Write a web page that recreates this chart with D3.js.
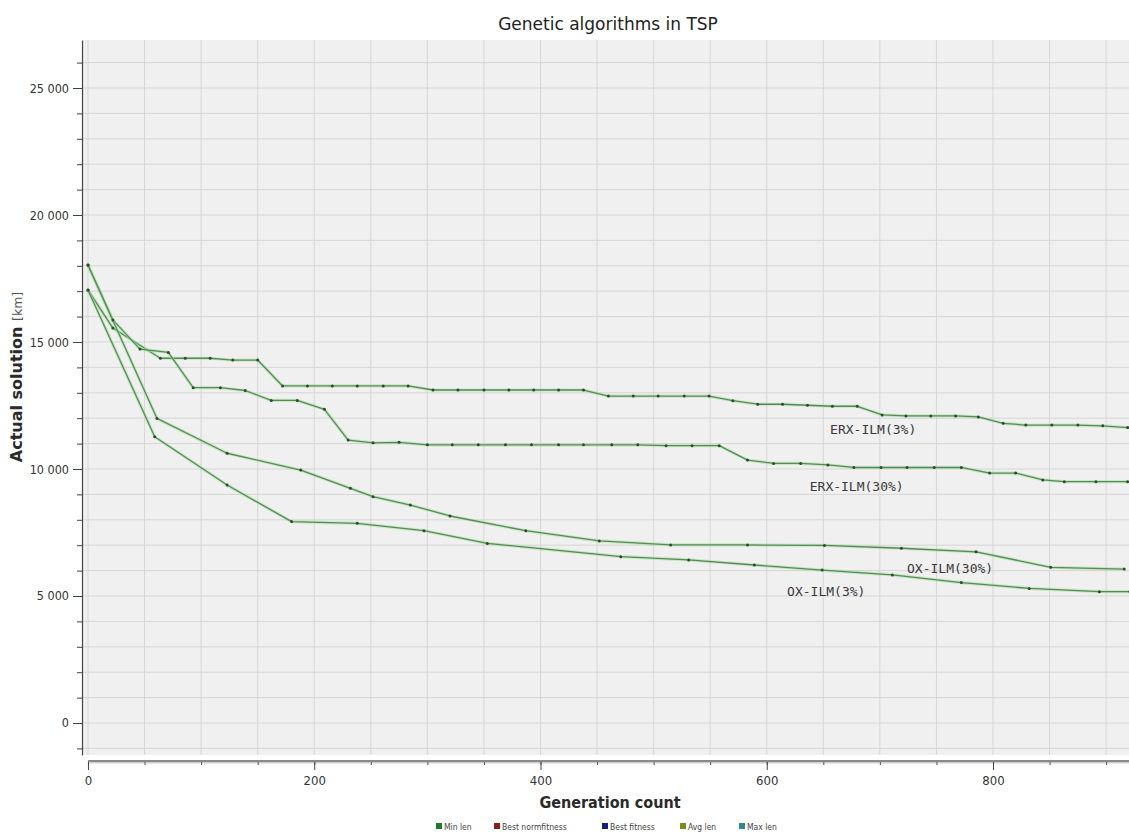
<!DOCTYPE html>
<html>
<head>
<meta charset="utf-8">
<script src="https://cdn.jsdelivr.net/npm/d3@7"></script>
<style>
  html, body { margin: 0; padding: 0; background: #ffffff; }
  svg { display: block; }
</style>
</head>
<body>
<svg id="chart" width="1129" height="836"></svg>
<script>
// ---------------- DATA ----------------
const chartTitle = "Genetic algorithms in TSP";
const xTitle = "Generation count";
const yTitleMain = "Actual solution";
const yTitleUnit = "[km]";

const seriesNames = ["ERX-ILM(3%)", "ERX-ILM(30%)", "OX-ILM(30%)", "OX-ILM(3%)"];

const erx3Gen = [0, 22, 64, 86, 108, 128, 150, 172, 194, 216, 238, 261, 283, 305, 327, 350, 372, 394, 416, 438, 460, 482, 504, 527, 549, 570, 592, 614, 636, 658, 680, 702, 723, 745, 767, 787, 809, 829, 852, 875, 897, 919];
const erx3Val = [17050, 15550, 14360, 14360, 14360, 14290, 14290, 13270, 13270, 13270, 13270, 13270, 13270, 13110, 13110, 13110, 13110, 13110, 13110, 13110, 12870, 12870, 12870, 12870, 12870, 12690, 12550, 12550, 12510, 12470, 12470, 12130, 12090, 12090, 12090, 12050, 11800, 11730, 11730, 11730, 11700, 11630];

const erx30Gen = [0, 22, 46, 71, 93, 117, 139, 162, 185, 209, 230, 252, 275, 300, 322, 345, 369, 392, 416, 438, 463, 486, 511, 534, 558, 583, 606, 630, 654, 677, 701, 724, 748, 772, 797, 820, 844, 863, 891, 919];
const erx30Val = [18030, 15870, 14720, 14590, 13200, 13200, 13090, 12700, 12700, 12350, 11140, 11030, 11050, 10950, 10950, 10950, 10950, 10950, 10950, 10950, 10950, 10950, 10920, 10920, 10920, 10350, 10220, 10220, 10160, 10060, 10060, 10060, 10060, 10060, 9840, 9840, 9570, 9500, 9500, 9500];

const ox30Gen = [0, 61, 123, 188, 232, 252, 285, 320, 387, 452, 515, 583, 651, 719, 785, 851, 916];
const ox30Val = [18030, 11990, 10620, 9960, 9240, 8910, 8580, 8150, 7570, 7170, 7010, 7010, 6990, 6880, 6740, 6130, 6060];

const ox3Gen = [0, 59, 123, 180, 238, 297, 353, 471, 531, 589, 649, 711, 772, 832, 894, 921];
const ox3Val = [17050, 11270, 9370, 7930, 7860, 7570, 7070, 6550, 6420, 6220, 6020, 5830, 5530, 5300, 5170, 5170];

// label anchor positions (data coordinates: generation, km)
const labelGen = [656, 638, 724, 618];
const labelVal = [11380, 9130, 5900, 5000];

const xTickValues = [0, 200, 400, 600, 800];
const xTickLabels = ["0", "200", "400", "600", "800"];
const yTickValues = [0, 5000, 10000, 15000, 20000, 25000];
const yTickLabels = ["0", "5 000", "10 000", "15 000", "20 000", "25 000"];

const legendNames = ["Min len", "Best normfitness", "Best fitness", "Avg len", "Max len"];
const legendColors = ["#1f7a2a", "#8a1c1c", "#1c1c7e", "#7b8c22", "#2e8b8b"];

// ---------------- LAYOUT ----------------
const svg = d3.select("#chart");
const plot = { left: 83, right: 1129, top: 40, bottom: 755 };

const x = d3.scaleLinear().domain([-4.4, 920.2]).range([plot.left, plot.right]);
const y = d3.scaleLinear().domain([-1260, 26890]).range([plot.bottom, plot.top]);

const condensed = "'DejaVu Sans Condensed', 'Liberation Sans Narrow', 'DejaVu Sans', sans-serif";

// plot background
svg.append("rect")
  .attr("x", plot.left).attr("y", plot.top)
  .attr("width", plot.right - plot.left).attr("height", plot.bottom - plot.top)
  .attr("fill", "#f0f0f0");

// grid
const vGrid = d3.range(0, 901, 50);
const hGrid = d3.range(-1000, 26001, 1000);
const grid = svg.append("g");
grid.selectAll("line.v").data(vGrid).join("line")
  .attr("x1", d => x(d)).attr("x2", d => x(d))
  .attr("y1", plot.top).attr("y2", plot.bottom)
  .attr("stroke", "#d6d6d6").attr("stroke-width", 1);
grid.selectAll("line.h").data(hGrid).join("line")
  .attr("x1", plot.left).attr("x2", plot.right)
  .attr("y1", d => y(d)).attr("y2", d => y(d))
  .attr("stroke", "#d6d6d6").attr("stroke-width", 1);

// ---------------- AXES ----------------
// y axis minor ticks
svg.append("g")
  .attr("transform", `translate(${plot.left - 1},0)`)
  .call(d3.axisLeft(y).tickValues(hGrid).tickSize(5).tickFormat(""))
  .call(g => g.select(".domain").remove())
  .call(g => g.selectAll(".tick line").attr("stroke", "#444"));

// y axis major
svg.append("g")
  .attr("transform", `translate(${plot.left - 1},0)`)
  .call(d3.axisLeft(y).tickValues(yTickValues).tickSize(9).tickSizeOuter(0)
    .tickFormat((d, i) => yTickLabels[i]))
  .call(g => g.select(".domain").attr("stroke", "#444").attr("stroke-width", 1.2))
  .call(g => g.selectAll(".tick line").attr("stroke", "#444"))
  .call(g => g.selectAll(".tick text")
    .attr("x", -13)
    .attr("font-family", condensed).attr("font-size", 12.5).attr("fill", "#333"));

// x axis
const xAxisY = 761;
svg.append("line")
  .attr("x1", x(0)).attr("x2", plot.right)
  .attr("y1", xAxisY + 1.5).attr("y2", xAxisY + 1.5)
  .attr("stroke", "#cfcfcf").attr("stroke-width", 2);
svg.append("g")
  .attr("transform", `translate(0,${xAxisY})`)
  .call(d3.axisBottom(x).tickValues(d3.range(0, 901, 50)).tickSize(4).tickFormat(""))
  .call(g => g.select(".domain").remove())
  .call(g => g.selectAll(".tick line").attr("stroke", "#555"));
svg.append("g")
  .attr("transform", `translate(0,${xAxisY})`)
  .call(d3.axisBottom(x).tickValues(xTickValues).tickSize(9).tickSizeOuter(0)
    .tickFormat((d, i) => xTickLabels[i]))
  .call(g => g.select(".domain").remove())
  .call(g => g.selectAll(".tick line").attr("stroke", "#444"))
  .call(g => g.selectAll(".tick text")
    .attr("y", 15)
    .attr("font-family", condensed).attr("font-size", 13).attr("fill", "#333"));
svg.append("line")
  .attr("x1", x(0)).attr("x2", plot.right)
  .attr("y1", xAxisY).attr("y2", xAxisY)
  .attr("stroke", "#8a8a8a").attr("stroke-width", 2);

// ---------------- SERIES ----------------
const series = [
  { name: seriesNames[0], g: erx3Gen, v: erx3Val },
  { name: seriesNames[1], g: erx30Gen, v: erx30Val },
  { name: seriesNames[2], g: ox30Gen, v: ox30Val },
  { name: seriesNames[3], g: ox3Gen, v: ox3Val }
].map(s => ({ name: s.name, pts: s.g.map((d, i) => ({ gen: d, val: s.v[i] })) }));

const line = d3.line().x(d => x(d.gen)).y(d => y(d.val));
const sg = svg.append("g");
series.forEach(s => {
  sg.append("path").datum(s.pts).attr("d", line)
    .attr("fill", "none").attr("stroke", "#9ee09e").attr("stroke-width", 3.2)
    .attr("stroke-opacity", 0.55).attr("stroke-linejoin", "round");
  sg.append("path").datum(s.pts).attr("d", line)
    .attr("fill", "none").attr("stroke", "#5a8a5a").attr("stroke-width", 1.3)
    .attr("stroke-linejoin", "round");
});
series.forEach(s => {
  sg.append("g").selectAll("circle").data(s.pts).join("circle")
    .attr("cx", d => x(d.gen)).attr("cy", d => y(d.val))
    .attr("r", 1.5).attr("fill", "#2f4a2f");
});

// series labels
svg.append("g").selectAll("text").data(seriesNames).join("text")
  .attr("x", (d, i) => x(labelGen[i]))
  .attr("y", (d, i) => y(labelVal[i]))
  .attr("font-family", "'DejaVu Sans Mono', 'Liberation Mono', monospace")
  .attr("font-size", 13).attr("fill", "#3a3a3a")
  .text(d => d);

// ---------------- TITLES ----------------
svg.append("text")
  .attr("x", 608).attr("y", 30).attr("text-anchor", "middle")
  .attr("font-family", "'DejaVu Sans', Verdana, sans-serif")
  .attr("font-size", 17).attr("fill", "#222")
  .text(chartTitle);

svg.append("text")
  .attr("x", 610).attr("y", 808).attr("text-anchor", "middle")
  .attr("font-family", condensed).attr("font-weight", "bold")
  .attr("font-size", 16).attr("fill", "#2a2a2a")
  .text(xTitle);

const yt = svg.append("text")
  .attr("transform", "translate(22,377) rotate(-90)")
  .attr("text-anchor", "middle")
  .attr("font-family", "'DejaVu Sans', sans-serif").attr("fill", "#2a2a2a");
yt.append("tspan").attr("font-weight", "bold").attr("font-size", 16).text(yTitleMain + " ");
yt.append("tspan").attr("font-size", 12.5).attr("fill", "#555").text(yTitleUnit);

// ---------------- LEGEND ----------------
const legendX = [436, 494, 602, 680, 739];
const lg = svg.append("g");
legendNames.forEach((n, i) => {
  lg.append("rect").attr("x", legendX[i]).attr("y", 823)
    .attr("width", 6).attr("height", 6).attr("fill", legendColors[i]);
  lg.append("text").attr("x", legendX[i] + 8).attr("y", 829.5)
    .attr("font-family", condensed).attr("font-size", 8.5).attr("fill", "#444")
    .text(n);
});
</script>
</body>
</html>
